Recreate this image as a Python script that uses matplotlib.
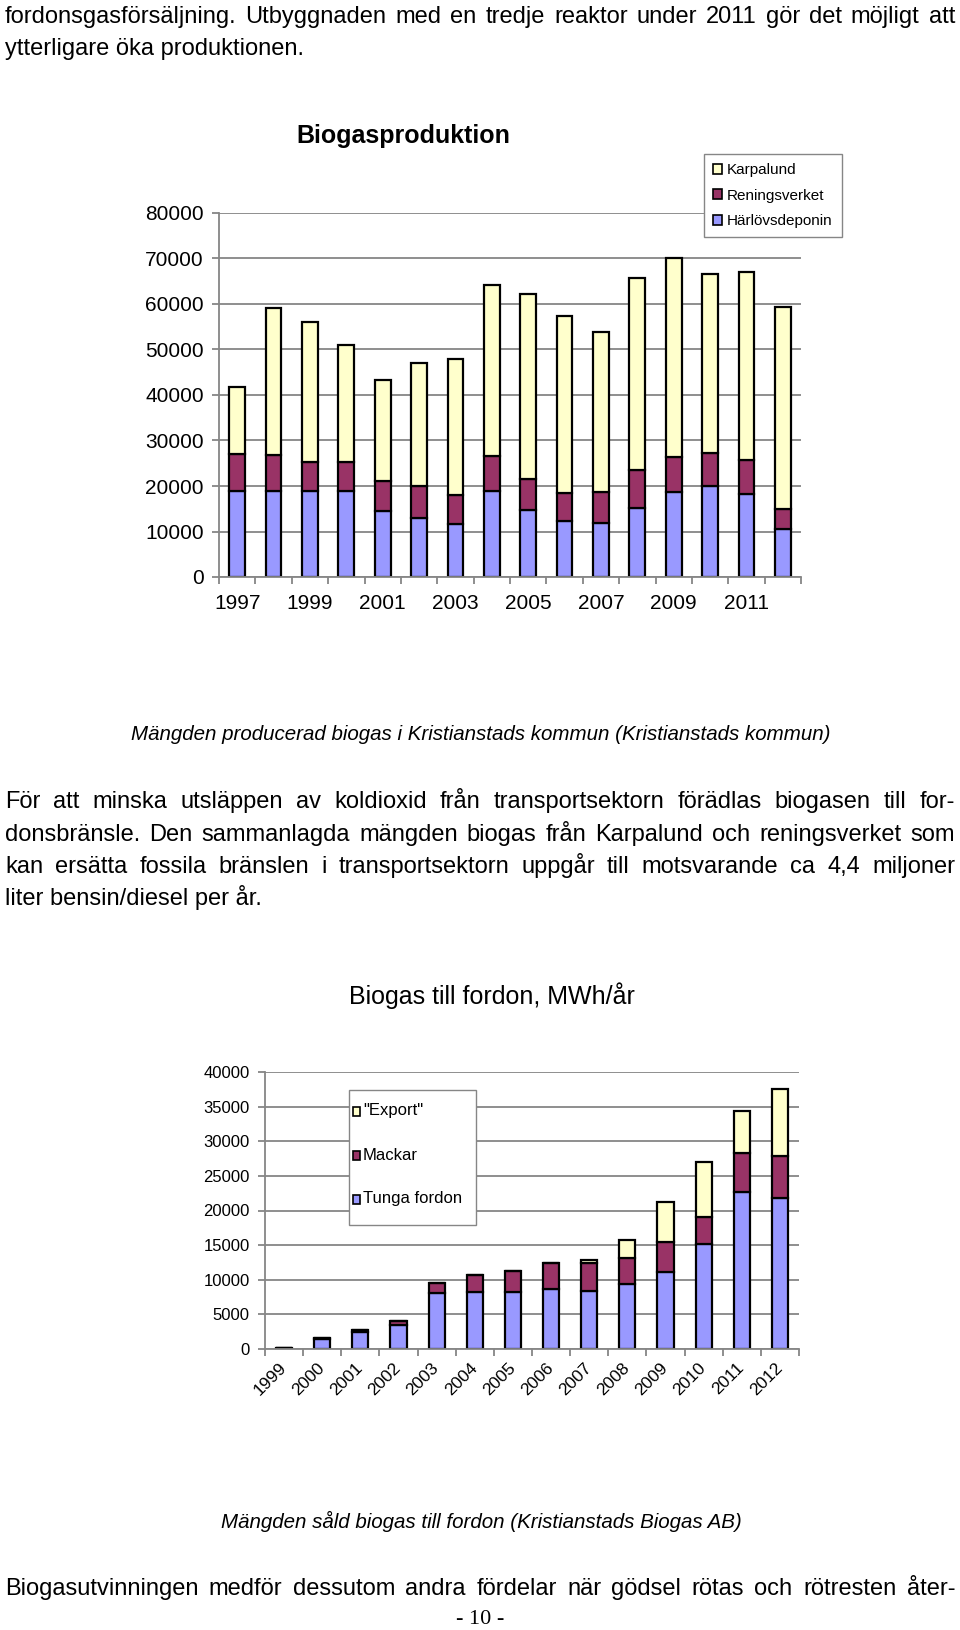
import numpy as np
import matplotlib
matplotlib.use("Agg")
import matplotlib.pyplot as plt
from matplotlib.patches import Patch, Rectangle

# Biogasproduktion (chart 1)
years1 = list(range(1997, 2013))
harlov = [19000, 19000, 19000, 19000, 14400, 13000, 11700, 19000,
          14700, 12200, 11900, 15200, 18600, 19900, 18200, 10600]
rening_top = [27100, 26900, 25300, 25300, 21100, 19900, 18000, 26500,
              21500, 18400, 18700, 23600, 26400, 27200, 25800, 15000]
total1 = [41800, 59100, 56000, 51000, 43400, 47000, 48000, 64200,
          62200, 57400, 53800, 65800, 70100, 66700, 67100, 59300]
rening = [r - h for r, h in zip(rening_top, harlov)]
karpalund = [t - r for t, r in zip(total1, rening_top)]

# Biogas till fordon (chart 2)
years2 = list(range(1999, 2013))
tunga = [150, 1400, 2450, 3400, 8100, 8250, 8250, 8630, 8390, 9450,
         11190, 15140, 22710, 21800]
mackar = [50, 150, 250, 650, 1450, 2450, 3000, 3860, 4000, 3760,
          4190, 3960, 5640, 6020]
export = [0, 0, 0, 0, 0, 0, 0, 0, 480, 2460, 5790, 7860, 6080, 9790]

YELLOW = "#FFFFCC"
PLUM = "#993366"
LILAC = "#9999FF"
GRID = "#868686"

W, H = 960, 1630
fig = plt.figure(figsize=(W / 100, H / 100), dpi=100)
renderer = fig.canvas.get_renderer()

SANS = ["Liberation Sans Narrow", "Liberation Sans", "DejaVu Sans"]
REG = ["Liberation Sans", "DejaVu Sans"]
BASE = 8  # text centre to baseline, px


def px(x, y):
    return x / W, 1 - y / H


def justify(line, y, x0=5, x1=955, size=17):
    words = line.split()
    objs = [fig.text(0, 0, w, fontsize=size, family=SANS, va="baseline")
            for w in words]
    widths = [o.get_window_extent(renderer).width for o in objs]
    gap = (x1 - x0 - sum(widths)) / (len(words) - 1)
    x = x0
    for o, w in zip(objs, widths):
        o.set_position(px(x, y + BASE))
        x += w + gap


def plain(line, y, x0=5, size=17):
    fig.text(*px(x0, y + BASE), line, fontsize=size, family=SANS, va="baseline")


justify("fordonsgasförsäljning. Utbyggnaden med en tredje reaktor under 2011 gör det möjligt att", 15)
plain("ytterligare öka produktionen.", 47)


def style_axes(ax, ymax, step, fs):
    ax.set_ylim(0, ymax)
    ax.set_yticks(np.arange(0, ymax + 1, step))
    ax.yaxis.grid(True, color=GRID, lw=1.3)
    ax.set_axisbelow(True)
    for s in ["top", "right"]:
        ax.spines[s].set_visible(False)
    for s in ["left", "bottom"]:
        ax.spines[s].set_color(GRID)
        ax.spines[s].set_linewidth(1.3)
    ax.tick_params(axis="y", length=5, color=GRID, width=1.3, labelsize=fs, pad=6)
    for lab in ax.get_yticklabels():
        lab.set_family(REG)


# ---- chart 1
ax1 = fig.add_axes([219 / W, 1 - 577 / H, 582 / W, 364 / H])
x1 = np.arange(len(years1))
kw = dict(width=0.43, edgecolor="black", linewidth=1.6)
ax1.bar(x1, harlov, color=LILAC, **kw)
ax1.bar(x1, rening, bottom=harlov, color=PLUM, **kw)
ax1.bar(x1, karpalund, bottom=rening_top, color=YELLOW, **kw)
style_axes(ax1, 80000, 10000, 15)
ax1.set_xlim(-0.5, len(years1) - 0.5)
ax1.set_xticks(x1[::2], [str(y) for y in years1[::2]], fontsize=15, family=REG)
ax1.set_xticks(np.arange(-0.5, len(years1)), minor=True)
ax1.tick_params(axis="x", which="major", length=0, pad=12)
ax1.tick_params(axis="x", which="minor", length=5, color=GRID, width=1.3)
fig.text(*px(403, 136), "Biogasproduktion", fontsize=18, fontweight="bold",
         family=REG, ha="center", va="center")
h1 = [Patch(facecolor=YELLOW, edgecolor="black", lw=1.2, label="Karpalund"),
      Patch(facecolor=PLUM, edgecolor="black", lw=1.2, label="Reningsverket"),
      Patch(facecolor=LILAC, edgecolor="black", lw=1.2, label="Härlövsdeponin")]
leg1 = ax1.legend(handles=h1, loc="upper left", bbox_to_anchor=px(704, 154),
                  bbox_transform=fig.transFigure, borderaxespad=0, fancybox=False,
                  edgecolor=GRID, framealpha=1, prop={"family": REG, "size": 11},
                  handlelength=0.6, handleheight=0.6, handletextpad=0.3,
                  labelspacing=0.75, borderpad=0.6)
leg1.get_frame().set_linewidth(1.0)

fig.text(*px(481, 734),
         "Mängden producerad biogas i Kristianstads kommun (Kristianstads kommun)",
         fontsize=14.8, style="italic", family=SANS, ha="center", va="center")

justify("För att minska utsläppen av koldioxid från transportsektorn förädlas biogasen till for-", 800)
justify("donsbränsle. Den sammanlagda mängden biogas från Karpalund och reningsverket som", 833)
justify("kan ersätta fossila bränslen i transportsektorn uppgår till motsvarande ca 4,4 miljoner", 865)
plain("liter bensin/diesel per år.", 897)

# ---- chart 2
ax2 = fig.add_axes([265 / W, 1 - 1349 / H, 534 / W, 277 / H])
x2 = np.arange(len(years2))
bottom2 = [t + m for t, m in zip(tunga, mackar)]
kw2 = dict(width=0.42, edgecolor="black", linewidth=1.6)
ax2.bar(x2, tunga, color=LILAC, **kw2)
ax2.bar(x2, mackar, bottom=tunga, color=PLUM, **kw2)
ax2.bar(x2, export, bottom=bottom2, color=YELLOW, **kw2)
style_axes(ax2, 40000, 5000, 12)
ax2.set_xlim(-0.5, len(years2) - 0.5)
ax2.set_xticks(x2, [str(y) for y in years2], fontsize=12.5, family=REG,
               rotation=45, ha="right", va="center", rotation_mode="anchor")
ax2.set_xticks(np.arange(-0.5, len(years2)), minor=True)
ax2.tick_params(axis="x", which="major", length=0, pad=12)
ax2.tick_params(axis="x", which="minor", length=5, color=GRID, width=1.3)
fig.text(*px(492, 996), "Biogas till fordon, MWh/år", fontsize=18,
         family=REG, ha="center", va="center")

# legend of chart 2, drawn as a box with wide row spacing
lx0, ly0, lx1, ly1 = 349, 1090, 476, 1225
fig.patches.append(Rectangle(px(lx0, ly1), (lx1 - lx0) / W, (ly1 - ly0) / H,
                             transform=fig.transFigure, facecolor="white",
                             edgecolor=GRID, lw=1.0, zorder=5))
labels2 = ['"Export"', "Mackar", "Tunga fordon"]
colors2 = [YELLOW, PLUM, LILAC]
for i, (lab, c) in enumerate(zip(labels2, colors2)):
    yc = 1111 + i * 44
    fig.patches.append(Rectangle(px(353, yc + 5), 7 / W, 9 / H,
                                 transform=fig.transFigure, facecolor=c,
                                 edgecolor="black", lw=1.2, zorder=6))
    fig.text(*px(363, yc), lab, fontsize=12, family=REG, va="center", zorder=6)

fig.text(*px(481, 1521),
         "Mängden såld biogas till fordon (Kristianstads Biogas AB)",
         fontsize=14.8, style="italic", family=SANS, ha="center", va="center")

justify("Biogasutvinningen medför dessutom andra fördelar när gödsel rötas och rötresten åter-", 1587)
fig.text(0.5, 1 - 1619 / H, "- 10 -", fontsize=16, family=["Liberation Serif", "DejaVu Serif"],
         ha="center", va="center")

fig.savefig("out.png", dpi=100)
